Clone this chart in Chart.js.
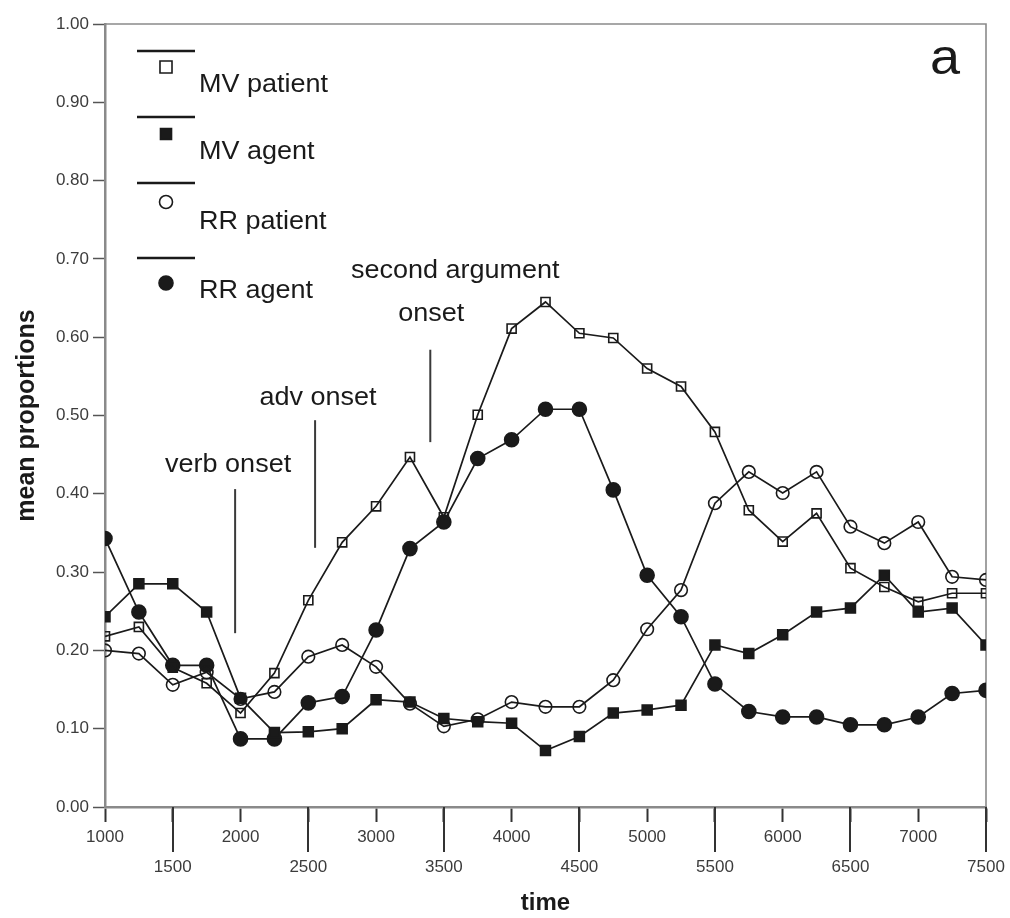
<!DOCTYPE html>
<html>
<head>
<meta charset="utf-8">
<script src="https://cdn.jsdelivr.net/npm/chart.js@4.4.1/dist/chart.umd.min.js"></script>
<style>
  html, body { margin: 0; padding: 0; background: #fff; }
  #wrap { width: 1010px; height: 918px; position: relative; }
</style>
</head>
<body>
<div id="wrap"><canvas id="c"></canvas></div>
<script>
// Sampling times (ms) shared by all four series
const timePoints = [1000, 1250, 1500, 1750, 2000, 2250, 2500, 2750, 3000, 3250, 3500, 3750, 4000, 4250,
                    4500, 4750, 5000, 5250, 5500, 5750, 6000, 6250, 6500, 6750, 7000, 7250, 7500];

// Mean proportions of looks per condition
const mvPatient = [0.218, 0.230, 0.178, 0.158, 0.120, 0.171, 0.264, 0.338, 0.384, 0.447, 0.370, 0.501, 0.611, 0.645,
                   0.605, 0.599, 0.560, 0.537, 0.479, 0.379, 0.339, 0.375, 0.305, 0.281, 0.262, 0.273, 0.273];
const mvAgent   = [0.243, 0.285, 0.285, 0.249, 0.139, 0.095, 0.096, 0.100, 0.137, 0.134, 0.113, 0.109, 0.107, 0.072,
                   0.090, 0.120, 0.124, 0.130, 0.207, 0.196, 0.220, 0.249, 0.254, 0.296, 0.249, 0.254, 0.207];
const rrPatient = [0.200, 0.196, 0.156, 0.172, 0.138, 0.147, 0.192, 0.207, 0.179, 0.132, 0.103, 0.112, 0.134, 0.128,
                   0.128, 0.162, 0.227, 0.277, 0.388, 0.428, 0.401, 0.428, 0.358, 0.337, 0.364, 0.294, 0.290];
const rrAgent   = [0.343, 0.249, 0.181, 0.181, 0.087, 0.087, 0.133, 0.141, 0.226, 0.330, 0.364, 0.445, 0.469, 0.508,
                   0.508, 0.405, 0.296, 0.243, 0.157, 0.122, 0.115, 0.115, 0.105, 0.105, 0.115, 0.145, 0.149];

const seriesLabels = ['MV patient', 'MV agent', 'RR patient', 'RR agent'];

// Axis ticks
const xTickValues = [1000, 1500, 2000, 2500, 3000, 3500, 4000, 4500, 5000, 5500, 6000, 6500, 7000, 7500];
const yTickValues = [0, 0.1, 0.2, 0.3, 0.4, 0.5, 0.6, 0.7, 0.8, 0.9, 1.0];

// Event markers: label lines, time, and vertical extent in proportion units
const onsetTexts  = [['verb onset'], ['adv onset'], ['second argument', 'onset']];
const onsetTimes  = [1960, 2550, 3400];
const onsetRanges = [[0.222, 0.406], [0.331, 0.494], [0.466, 0.584]];

const panelLetter = 'a';

const TEXT_FONT = '"Liberation Sans", Arial, Helvetica, sans-serif';
const INK = '#1a1a1a';

function drawWideText(ctx, text, x, y, size, weight, align) {
  ctx.save();
  ctx.font = weight + ' ' + size + 'px ' + TEXT_FONT;
  ctx.fillStyle = INK;
  ctx.textAlign = align;
  ctx.textBaseline = 'alphabetic';
  ctx.translate(x, y);
  ctx.scale(1.08, 1);
  ctx.fillText(text, 0, 0);
  ctx.restore();
}

function marker(ctx, style, filled, r, x, y) {
  ctx.save();
  ctx.lineWidth = 1.6;
  ctx.strokeStyle = INK;
  ctx.fillStyle = INK;
  ctx.beginPath();
  if (style === 'rect') {
    const h = r * Math.SQRT1_2;
    ctx.rect(x - h, y - h, 2 * h, 2 * h);
  } else {
    ctx.arc(x, y, r, 0, Math.PI * 2);
  }
  if (filled) ctx.fill();
  ctx.stroke();
  ctx.restore();
}

// Per-series marker look
const markerStyles = [
  { style: 'rect',   filled: false, r: 6.4, legendR: 8.5 },
  { style: 'rect',   filled: true,  r: 7.0, legendR: 7.8 },
  { style: 'circle', filled: false, r: 6.3, legendR: 6.5 },
  { style: 'circle', filled: true,  r: 7.0, legendR: 7.0 }
];
const seriesValues = [mvPatient, mvAgent, rrPatient, rrAgent];

const datasets = seriesValues.map((vals, i) => ({
  label: seriesLabels[i],
  data: timePoints.map((t, j) => ({ x: t, y: vals[j] })),
  borderColor: INK,
  borderWidth: 1.7,
  pointStyle: markerStyles[i].style,
  pointRadius: markerStyles[i].r,
  pointBorderWidth: 1.6,
  pointBorderColor: INK,
  pointBackgroundColor: markerStyles[i].filled ? INK : 'rgba(0,0,0,0)',
  tension: 0,
  fill: false,
  clip: 0
}));

const decorPlugin = {
  id: 'decor',
  beforeDatasetsDraw(chart) {
    const { ctx, chartArea: a } = chart;
    // frame on top and right
    ctx.save();
    ctx.strokeStyle = '#8a8a8a';
    ctx.lineWidth = 1.6;
    ctx.beginPath();
    ctx.moveTo(a.left, a.top);
    ctx.lineTo(a.right, a.top);
    ctx.lineTo(a.right, a.bottom);
    ctx.stroke();
    ctx.restore();
  },
  afterDraw(chart) {
    const { ctx, chartArea: a, scales } = chart;
    const xs = scales.x, ys = scales.y;

    // long tick marks at the half-thousand positions
    ctx.save();
    ctx.strokeStyle = '#333';
    ctx.lineWidth = 2;
    xTickValues.forEach(v => {
      if (v % 1000 === 500) {
        const px = Math.round(xs.getPixelForValue(v));
        ctx.beginPath();
        ctx.moveTo(px, a.bottom);
        ctx.lineTo(px, a.bottom + 45);
        ctx.stroke();
      }
    });
    ctx.restore();

    // onset markers
    const textPlacement = [
      [{ dx: -7, gap: 17 }],
      [{ dx: 3, gap: 15 }],
      [{ dx: 25, gap: 72 }, { dx: 1, gap: 29 }]
    ];
    onsetTimes.forEach((t, i) => {
      const px = xs.getPixelForValue(t);
      const yTop = ys.getPixelForValue(onsetRanges[i][1]);
      const yBot = ys.getPixelForValue(onsetRanges[i][0]);
      ctx.save();
      ctx.strokeStyle = '#3a3a3a';
      ctx.lineWidth = 2;
      ctx.beginPath();
      ctx.moveTo(px, yTop);
      ctx.lineTo(px, yBot);
      ctx.stroke();
      ctx.restore();
      onsetTexts[i].forEach((line, k) => {
        const p = textPlacement[i][k];
        drawWideText(ctx, line, px + p.dx, yTop - p.gap, 25, 'normal', 'center');
      });
    });

    // legend block
    const lineY = [27, 93, 159, 234];
    const markY = [43, 110, 178, 259];
    const textY = [68, 135, 205, 274];
    seriesLabels.forEach((lab, i) => {
      ctx.save();
      ctx.strokeStyle = INK;
      ctx.lineWidth = 2.5;
      ctx.beginPath();
      ctx.moveTo(a.left + 32, a.top + lineY[i]);
      ctx.lineTo(a.left + 90, a.top + lineY[i]);
      ctx.stroke();
      ctx.restore();
      const m = markerStyles[i];
      marker(ctx, m.style, m.filled, m.legendR, a.left + 61, a.top + markY[i]);
      drawWideText(ctx, lab, a.left + 94, a.top + textY[i], 25, 'normal', 'left');
    });

    // panel letter
    drawWideText(ctx, panelLetter, a.right - 41, a.top + 50, 50, 'normal', 'center');
  }
};

new Chart(document.getElementById('c'), {
  type: 'line',
  data: { datasets },
  options: {
    responsive: true,
    maintainAspectRatio: false,
    devicePixelRatio: 1,
    animation: false,
    layout: { padding: { top: 24, right: 24, left: 0, bottom: 0 } },
    plugins: { legend: { display: false }, tooltip: { enabled: false } },
    scales: {
      x: {
        type: 'linear',
        min: 1000,
        max: 7500,
        afterBuildTicks(scale) { scale.ticks = xTickValues.map(v => ({ value: v })); },
        afterFit(scale) { scale.height = 111; },
        border: { color: '#8a8a8a', width: 2.5 },
        grid: { drawOnChartArea: false, tickLength: 15, tickColor: '#333', tickWidth: 2 },
        ticks: {
          autoSkip: false,
          maxRotation: 0,
          padding: 0,
          color: '#3c3c3c',
          font: { family: TEXT_FONT, size: 17, lineHeight: '30px' },
          callback: v => (v % 1000 === 0 ? String(v) : ['', String(v)])
        },
        title: {
          display: true,
          text: 'time',
          color: INK,
          font: { family: TEXT_FONT, size: 24, weight: 'bold' },
          padding: { top: 0, bottom: 0 }
        }
      },
      y: {
        min: 0,
        max: 1,
        afterBuildTicks(scale) { scale.ticks = yTickValues.map(v => ({ value: v })); },
        afterFit(scale) { scale.width = 105; },
        border: { color: '#8a8a8a', width: 2.5 },
        grid: { drawOnChartArea: false, tickLength: 12, tickColor: '#555', tickWidth: 1.5 },
        ticks: {
          padding: 4,
          color: '#3c3c3c',
          font: { family: TEXT_FONT, size: 17 },
          callback: v => Number(v).toFixed(2)
        },
        title: {
          display: true,
          text: 'mean proportions',
          color: INK,
          font: { family: TEXT_FONT, size: 25, weight: 'bold' },
          padding: { top: 12, bottom: 0 }
        }
      }
    }
  },
  plugins: [decorPlugin]
});
</script>
</body>
</html>
